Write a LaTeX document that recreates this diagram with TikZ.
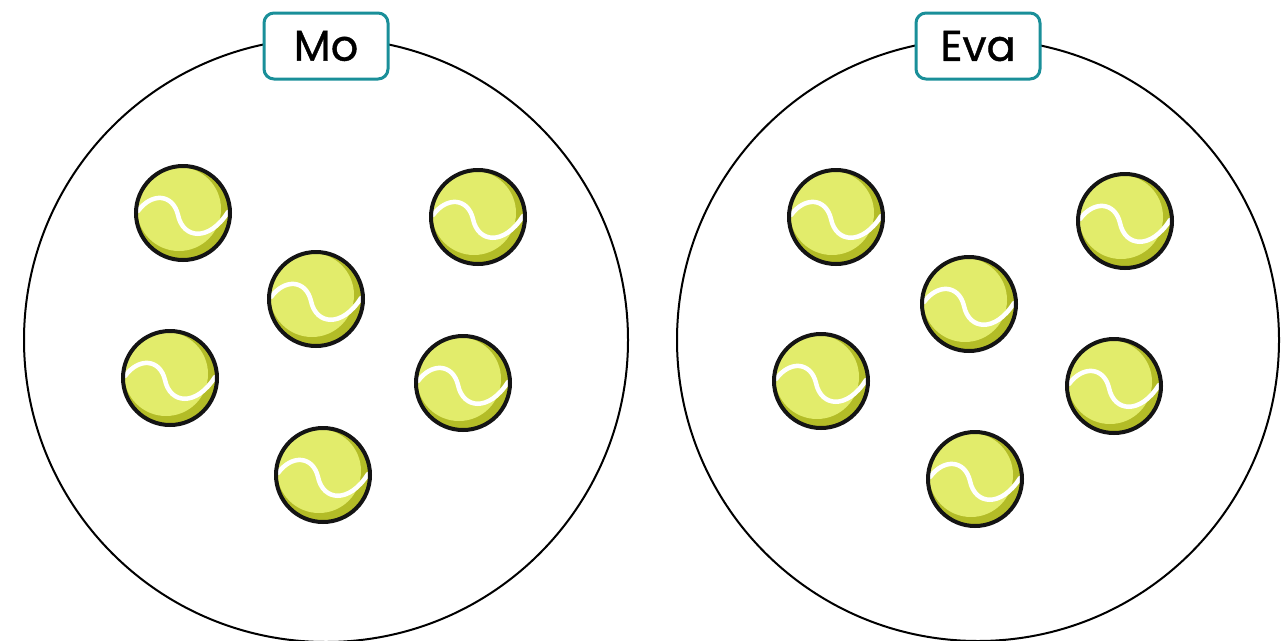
\documentclass[tikz,border=0pt]{standalone}
\usepackage{fontspec}
\setmainfont{Poppins}
\newfontfamily\tagfont{Poppins}[FakeBold=0.9]
\definecolor{ballyellow}{HTML}{E2EC6B}
\definecolor{ballshade}{HTML}{B3BC27}
\definecolor{tagteal}{HTML}{1A8F99}
\tikzset{
    tag/.style = {draw=tagteal, line width=3pt, rounded corners=10pt, fill=white,
                  minimum width=124pt, minimum height=66pt, inner sep=0pt,
                  font=\tagfont\fontsize{43}{43}\selectfont},
    ball/.pic = {
        \fill[ballshade] (0,0) circle (46);
        \fill[ballyellow] (-4,-4) circle (42);
        \draw[white, line width=4.5pt, line cap=round]
            (-45,-2) .. controls (-31,-21) and (-10,-19) .. (-5,2)
            .. controls (0,26) and (26,29) .. (45,-1);
        \draw[black!92, line width=4pt] (0,0) circle (47);
    }
}
\begin{document}
\begin{tikzpicture}[x=1pt, y=-1pt, color = {black}]
    \useasboundingbox (0,0) rectangle (1287,640);
    % Mo
    \draw[black, line width=2pt] (326,340) circle (302);
    \node[tag] (mo) at (326,46) {Mo};
    \pic at (183,213) {ball};
    \pic at (478,217) {ball};
    \pic at (316,299) {ball};
    \pic at (170,378) {ball};
    \pic at (463,383) {ball};
    \pic at (323,475) {ball};
    % Eva
    \draw[black, line width=2pt] (978,340) circle (301);
    \node[tag] (eva) at (978,46) {Eva};
    \pic at (836,217) {ball};
    \pic at (1125,221) {ball};
    \pic at (969,304) {ball};
    \pic at (821,381) {ball};
    \pic at (1114,386) {ball};
    \pic at (975,479) {ball};
\end{tikzpicture}
\end{document}
